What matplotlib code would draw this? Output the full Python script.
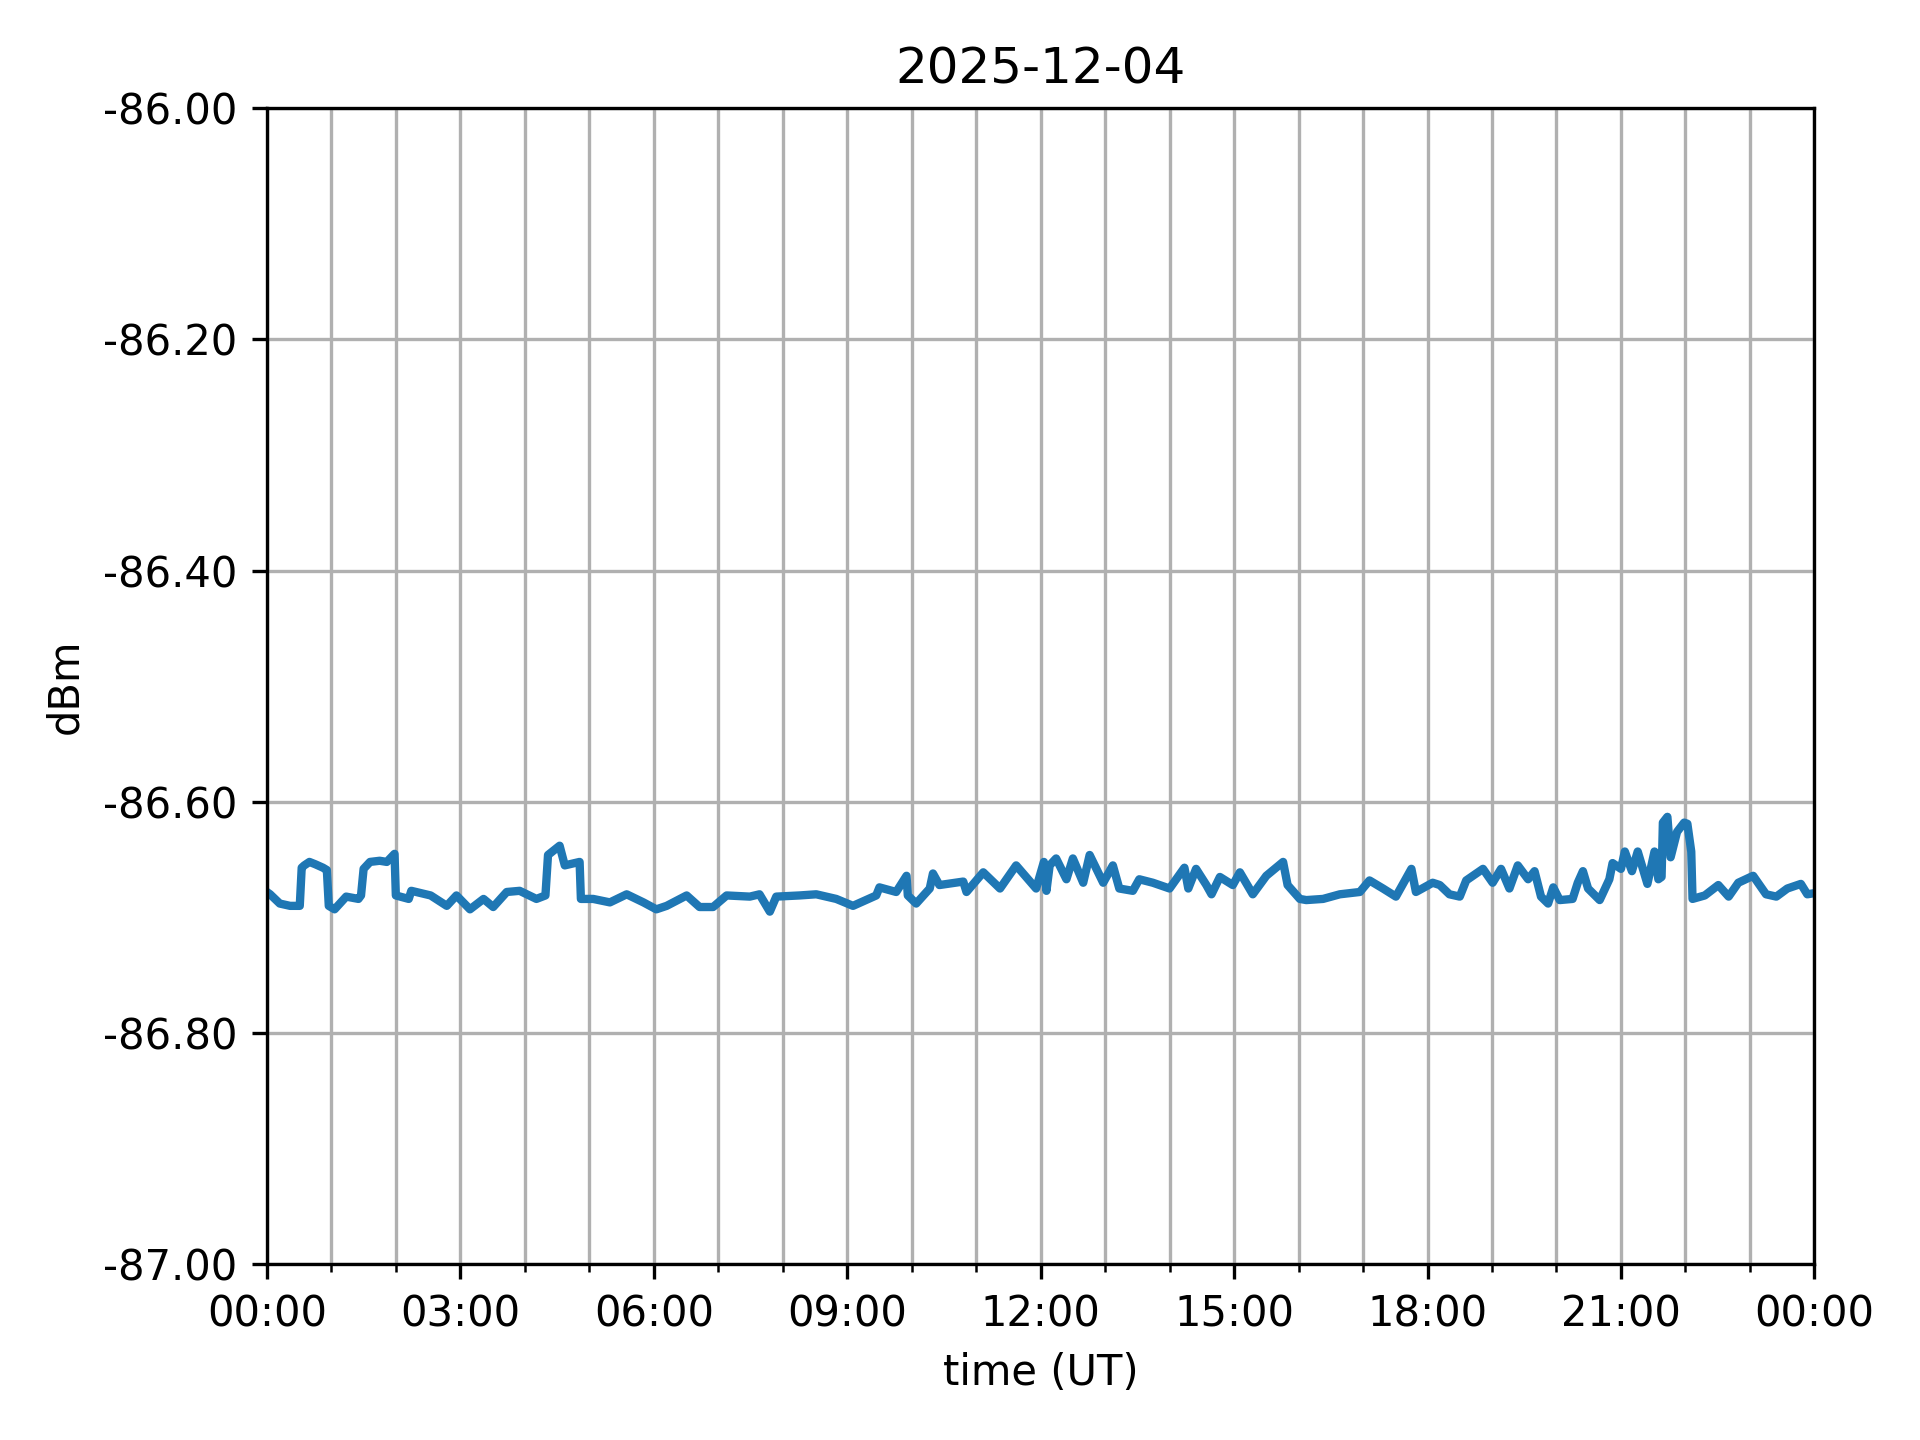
import matplotlib
matplotlib.use("Agg")
import matplotlib.pyplot as plt
import matplotlib.dates as mdates
import datetime as dt
import numpy as np

title = "2025-12-04"
hours = [0.00, 0.05, 0.20, 0.36, 0.51, 0.54, 0.58, 0.66, 0.75, 0.87, 0.93, 0.96, 1.05, 1.23, 1.42, 1.46,
         1.50, 1.60, 1.75, 1.86, 1.98,
         2.00, 2.20, 2.24, 2.54, 2.79, 2.94, 3.15, 3.36, 3.51, 3.72, 3.92, 4.18, 4.32, 4.36, 4.54,
         4.62, 4.85, 4.87, 5.06, 5.32, 5.58, 5.84, 6.04, 6.20, 6.51, 6.71, 6.92, 7.13, 7.49, 7.64,
         7.80, 7.90, 8.26, 8.52, 8.83, 9.09, 9.45, 9.50, 9.76, 9.92, 9.94, 10.07, 10.28, 10.33,
         10.43, 10.80, 10.85, 11.11, 11.37, 11.62, 11.93, 12.05, 12.09, 12.14, 12.24, 12.40, 12.50,
         12.66, 12.76, 12.97, 13.12, 13.22, 13.43, 13.53, 13.74, 14.00, 14.23, 14.29, 14.41, 14.57,
         14.65, 14.78, 14.98, 15.09, 15.29, 15.50, 15.76, 15.83, 16.02, 16.12, 16.38, 16.64, 16.95,
         17.10, 17.31, 17.51, 17.75, 17.82, 18.08, 18.19, 18.34, 18.50, 18.60, 18.86, 19.01, 19.14,
         19.27, 19.40, 19.56, 19.66, 19.76, 19.87, 19.95, 20.05, 20.25, 20.33, 20.41, 20.49, 20.67,
         20.82, 20.87, 21.00, 21.06, 21.17, 21.26, 21.41, 21.52, 21.58, 21.63, 21.65, 21.72, 21.77, 21.87,
         21.98, 22.03, 22.09, 22.11, 22.30, 22.51, 22.67, 22.82, 23.05, 23.25, 23.41, 23.58, 23.79,
         23.89, 24.00]
dbm = [-86.678, -86.680, -86.688, -86.690, -86.690, -86.657, -86.655, -86.652, -86.654, -86.657, -86.659,
       -86.690, -86.693, -86.682,
       -86.684, -86.681, -86.658, -86.652, -86.651, -86.652, -86.645, -86.681, -86.684, -86.677, -86.681, -86.690,
       -86.681, -86.693, -86.684, -86.691, -86.678, -86.677, -86.684, -86.681, -86.646, -86.638,
       -86.655, -86.652, -86.684, -86.684, -86.687, -86.680, -86.687, -86.693, -86.690, -86.681,
       -86.691, -86.691, -86.681, -86.682, -86.680, -86.695, -86.682, -86.681, -86.680, -86.684,
       -86.690, -86.681, -86.674, -86.678, -86.664, -86.681, -86.688, -86.675, -86.662, -86.672,
       -86.669, -86.678, -86.661, -86.675, -86.655, -86.675, -86.652, -86.677, -86.655, -86.649,
       -86.667, -86.649, -86.670, -86.646, -86.670, -86.655, -86.675, -86.677, -86.667, -86.670,
       -86.675, -86.657, -86.675, -86.658, -86.672, -86.680, -86.665, -86.672, -86.661, -86.680,
       -86.664, -86.652, -86.672, -86.684, -86.685, -86.684, -86.680, -86.678, -86.668, -86.675,
       -86.682, -86.658, -86.678, -86.670, -86.672, -86.680, -86.682, -86.668, -86.658, -86.670,
       -86.658, -86.675, -86.655, -86.667, -86.660, -86.682, -86.688, -86.674, -86.685, -86.684,
       -86.670, -86.660, -86.675, -86.685, -86.667, -86.653, -86.658, -86.643, -86.660, -86.643,
       -86.671, -86.643, -86.667, -86.665, -86.618, -86.613, -86.648, -86.626, -86.618, -86.619, -86.643,
       -86.684, -86.681, -86.672, -86.682, -86.670, -86.664, -86.680, -86.682, -86.675, -86.671,
       -86.680, -86.679]

start = dt.datetime(2025, 12, 4)
times = [start + dt.timedelta(hours=h) for h in hours]

fig = plt.figure(figsize=(6.4, 4.8), dpi=300)
ax = fig.add_axes([0.139, 0.122, 0.806, 0.803])
ax.plot(times, dbm, color="#1f77b4", linewidth=2.0)
ax.set_xlim(start, start + dt.timedelta(days=1))
ax.set_ylim(-87.0, -86.0)
ax.set_yticks(np.arange(-87.0, -85.99, 0.2))
ax.yaxis.set_major_formatter(matplotlib.ticker.FormatStrFormatter("%.2f"))
ax.xaxis.set_major_locator(mdates.HourLocator(byhour=range(0, 24, 3)))
ax.xaxis.set_minor_locator(mdates.HourLocator())
ax.xaxis.set_major_formatter(mdates.DateFormatter("%H:%M"))
ax.grid(True, which="major")
ax.grid(True, which="minor", axis="x")
ax.set_xlabel("time (UT)")
ax.set_ylabel("dBm")
ax.set_title(title)
fig.savefig("out.png", dpi=300)
